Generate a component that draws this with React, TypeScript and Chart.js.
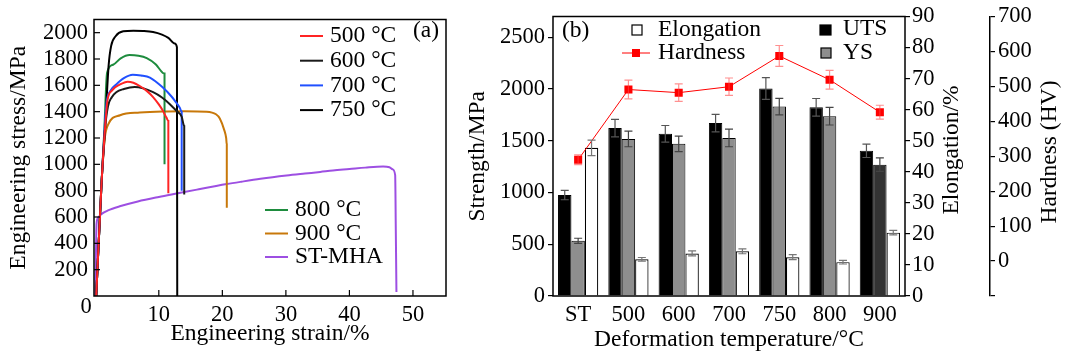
import React, { useEffect, useRef } from 'react';
import { Chart, registerables } from 'chart.js';

Chart.register(...registerables);

const SERIF = '"Liberation Serif", "Times New Roman", Times, serif';
const TICK_SIZE = 22.5;
const TEXT_SIZE = 23.5;

// ---------------- Panel (a): engineering stress-strain curves ----------------
const STRAIN_TICKS = [10, 20, 30, 40, 50];
const STRESS_TICKS = [200, 400, 600, 800, 1000, 1200, 1400, 1600, 1800, 2000];

const C500_STRAIN = [0.15, 1.0, 1.5, 1.9, 2.6, 3.9, 5.1, 6.0, 7.0, 8.1, 9.1, 10.0, 10.6, 11.2, 11.5, 11.5];
const C500_STRESS = [0, 870, 1250, 1480, 1560, 1607, 1628, 1620, 1595, 1558, 1511, 1455, 1410, 1355, 1330, 780];

const C600_STRAIN = [0.15, 1.0, 1.5, 2.0, 2.6, 3.3, 4.5, 6.2, 7.5, 9.1, 10.5, 11.7, 12.8, 13.6, 14.0, 14.0];
const C600_STRESS = [0, 870, 1250, 1440, 1510, 1548, 1572, 1587, 1578, 1548, 1508, 1459, 1405, 1363, 1290, 770];

const C700_STRAIN = [0.15, 1.0, 1.5, 1.8, 2.4, 3.3, 4.5, 5.9, 7.2, 8.6, 10.6, 12.0, 12.5, 13.3, 13.6, 13.6];
const C700_STRESS = [0, 870, 1300, 1474, 1560, 1607, 1655, 1681, 1675, 1659, 1585, 1515, 1484, 1430, 1400, 800];

const C750_STRAIN = [0.15, 1.0, 1.5, 2.1, 2.5, 3.2, 4.4, 6.0, 7.5, 9.1, 10.5, 11.5, 12.5, 12.85, 12.9];
const C750_STRESS = [0, 870, 1237, 1750, 1900, 1973, 2010, 2015, 2013, 2005, 1985, 1960, 1918, 1890, 0];

const C800_STRAIN = [0.15, 1.0, 1.4, 1.86, 2.8, 4.0, 5.4, 6.8, 8.1, 9.5, 10.6, 10.9, 10.9];
const C800_STRESS = [0, 870, 1237, 1696, 1756, 1805, 1830, 1825, 1807, 1760, 1696, 1690, 1000];

const C900_STRAIN = [0.15, 1.0, 1.5, 2.0, 3.9, 7.0, 10.6, 14.0, 17.5, 19.0, 19.6, 20.3, 20.6, 20.7, 20.7];
const C900_STRESS = [0, 870, 1200, 1300, 1373, 1393, 1402, 1404, 1400, 1380, 1348, 1260, 1200, 1150, 670];

const CST_STRAIN = [0.0, 0.1, 0.2, 0.5, 0.9, 2.0, 4.0, 6.7, 10.0, 13.0, 16.0, 20.7, 23.0, 26.0, 30.1, 33.0, 35.4, 37.4, 40.0, 42.5, 45.3, 46.3, 46.8, 47.2, 47.3, 47.4];
const CST_STRESS = [0, 300, 548, 598, 620, 650, 683, 718, 752, 780, 808, 850, 868, 890, 915, 930, 942, 953, 964, 975, 983, 978, 962, 918, 500, 30];

const CURVE_LABELS = ['500 °C', '600 °C', '700 °C', '750 °C', '800 °C', '900 °C', 'ST-MHA'];
const CURVE_COLORS = ['#ff2424', '#1a1a1a', '#2050ff', '#000000', '#1e8c3e', '#c8780a', '#9d4fe2'];
const CURVE_STRAINS = [C500_STRAIN, C600_STRAIN, C700_STRAIN, C750_STRAIN, C800_STRAIN, C900_STRAIN, CST_STRAIN];
const CURVE_STRESSES = [C500_STRESS, C600_STRESS, C700_STRESS, C750_STRESS, C800_STRESS, C900_STRESS, CST_STRESS];

// ---------------- Panel (b): strength / elongation / hardness ----------------
const TEMPS = ['ST', '500', '600', '700', '750', '800', '900'];
const UTS = [975, 1622, 1567, 1670, 2004, 1823, 1403];
const UTS_ERR = [45, 85, 80, 85, 105, 85, 65];
const YS = [533, 1517, 1470, 1527, 1830, 1737, 1269];
const YS_ERR = [25, 75, 75, 85, 80, 85, 65];
const YS_COLORS = ['#8e8e8e', '#8e8e8e', '#8e8e8e', '#8e8e8e', '#8e8e8e', '#8e8e8e', '#333333'];
const ELONGATION = [47.7, 11.8, 13.7, 14.4, 12.5, 10.9, 20.4];
const ELONGATION_ERR = [2.5, 0.6, 0.8, 0.8, 0.8, 0.6, 0.7];
const HARDNESS = [290, 491, 482, 499, 587, 519, 426];
const HARDNESS_ERR = [14, 27, 25, 25, 30, 27, 20];

const STRENGTH_TICKS = [0, 500, 1000, 1500, 2000, 2500];
const ELONGATION_TICKS = [0, 10, 20, 30, 40, 50, 60, 70, 80, 90];
const HARDNESS_TICKS = [-100, 0, 100, 200, 300, 400, 500, 600, 700];

const tickFont = { family: SERIF, size: TICK_SIZE };
const textFont = { family: SERIF, size: TEXT_SIZE };
const textCss = `${TEXT_SIZE}px ${SERIF}`;
const tickCss = `${TICK_SIZE}px ${SERIF}`;
const plain = (v: any) => String(v);

const panelAPlugin = {
  id: 'panelADecor',
  afterDraw(chart: any) {
    const { ctx, chartArea: ca } = chart;
    ctx.save();
    ctx.strokeStyle = '#000';
    ctx.lineWidth = 1.5;
    ctx.strokeRect(ca.left, ca.top, ca.right - ca.left, ca.bottom - ca.top);
    // inward ticks
    const xs = chart.scales.x;
    const ys = chart.scales.y;
    ctx.lineWidth = 1.2;
    STRAIN_TICKS.forEach((v) => {
      const px = xs.getPixelForValue(v);
      ctx.beginPath();
      ctx.moveTo(px, ca.bottom);
      ctx.lineTo(px, ca.bottom - 6);
      ctx.stroke();
    });
    STRESS_TICKS.forEach((v) => {
      const py = ys.getPixelForValue(v);
      ctx.beginPath();
      ctx.moveTo(ca.left, py);
      ctx.lineTo(ca.left + 6, py);
      ctx.stroke();
    });
    ctx.fillStyle = '#000';
    ctx.textBaseline = 'middle';
    ctx.textAlign = 'center';
    ctx.font = tickCss;
    ctx.fillText('0', ca.left - 8, ca.bottom + 11);
    ctx.textAlign = 'left';
    ctx.font = textCss;
    ctx.fillText('(a)', 413, 31);
    // legend
    const ds = chart.data.datasets;
    const drawEntry = (i: number, x0: number, y: number) => {
      ctx.strokeStyle = ds[i].borderColor;
      ctx.lineWidth = 2;
      ctx.beginPath();
      ctx.moveTo(x0, y);
      ctx.lineTo(x0 + 23, y);
      ctx.stroke();
      ctx.fillStyle = '#000';
      ctx.fillText(ds[i].label, x0 + 30, y);
    };
    [0, 1, 2, 3].forEach((i, k) => drawEntry(i, 300, 36 + k * 24.7));
    [4, 5, 6].forEach((i, k) => drawEntry(i, 265, 210 + k * 23.5));
    ctx.restore();
  },
};

const panelBPlugin = {
  id: 'panelBDecor',
  afterDatasetsDraw(chart: any) {
    const { ctx } = chart;
    ctx.save();
    chart.data.datasets.forEach((ds: any, i: number) => {
      const meta = chart.getDatasetMeta(i);
      const scale = chart.scales[ds.yAxisID];
      const errs: number[] = ds.errorBars;
      if (!errs) return;
      ctx.strokeStyle = ds.errorColor;
      ctx.lineWidth = 1.2;
      meta.data.forEach((el: any, j: number) => {
        const v = ds.data[j];
        const yTop = scale.getPixelForValue(v + errs[j]);
        const yBot = scale.getPixelForValue(v - errs[j]);
        const x = el.x;
        ctx.beginPath();
        ctx.moveTo(x, yTop);
        ctx.lineTo(x, yBot);
        ctx.moveTo(x - 4, yTop);
        ctx.lineTo(x + 4, yTop);
        ctx.moveTo(x - 4, yBot);
        ctx.lineTo(x + 4, yBot);
        ctx.stroke();
      });
    });
    ctx.restore();
  },
  afterDraw(chart: any) {
    const { ctx, chartArea: ca } = chart;
    ctx.save();
    ctx.strokeStyle = '#000';
    ctx.lineWidth = 1.5;
    ctx.strokeRect(ca.left, ca.top, ca.right - ca.left, ca.bottom - ca.top);
    ctx.fillStyle = '#000';
    ctx.font = textCss;
    ctx.textBaseline = 'middle';
    ctx.textAlign = 'left';
    ctx.fillText('(b)', 102, 31);

    const ds = chart.data.datasets;
    // Elongation box
    ctx.lineWidth = 1.2;
    ctx.fillStyle = '#fff';
    ctx.fillRect(172, 25, 10, 10);
    ctx.strokeRect(172, 25, 10, 10);
    ctx.fillStyle = '#000';
    ctx.fillText(ds[2].label, 198, 30);
    // Hardness line + marker
    ctx.strokeStyle = '#ff0000';
    ctx.lineWidth = 1;
    ctx.beginPath();
    ctx.moveTo(162, 53);
    ctx.lineTo(190, 53);
    ctx.stroke();
    ctx.fillStyle = '#ff0000';
    ctx.fillRect(172, 49, 8, 8);
    ctx.fillStyle = '#000';
    ctx.fillText(ds[3].label, 198, 53);
    // UTS box
    ctx.strokeStyle = '#000';
    ctx.lineWidth = 1.2;
    ctx.fillStyle = '#000';
    ctx.fillRect(360, 25, 11, 10);
    ctx.strokeRect(360, 25, 11, 10);
    ctx.fillText(ds[0].label, 383, 29);
    // YS box
    ctx.fillStyle = '#8e8e8e';
    ctx.fillRect(361, 48, 10, 10);
    ctx.strokeRect(361, 48, 10, 10);
    ctx.fillStyle = '#000';
    ctx.fillText(ds[1].label, 383, 53);

    // rotated right-hand titles (reading bottom to top)
    const drawRot = (text: string, x: number, y: number) => {
      ctx.save();
      ctx.translate(x, y);
      ctx.rotate(-Math.PI / 2);
      ctx.textAlign = 'center';
      ctx.textBaseline = 'middle';
      ctx.fillText(text, 0, 0);
      ctx.restore();
    };
    drawRot('Elongation/%', 492, 150);
    drawRot('Hardness (HV)', 590, 152);
    ctx.restore();
  },
};

function PanelA() {
  const ref = useRef<HTMLCanvasElement>(null);
  useEffect(() => {
    const chart = new Chart(ref.current as HTMLCanvasElement, {
      type: 'scatter',
      data: {
        datasets: CURVE_LABELS.map((label, i) => ({
          label,
          data: CURVE_STRAINS[i].map((x, k) => ({ x, y: CURVE_STRESSES[i][k] })),
          showLine: true,
          borderColor: CURVE_COLORS[i],
          backgroundColor: CURVE_COLORS[i],
          borderWidth: 2,
          pointRadius: 0,
          cubicInterpolationMode: 'monotone',
          fill: false,
        })),
      },
      options: {
        animation: false,
        responsive: false,
        devicePixelRatio: 1,
        layout: { padding: { top: 13, right: 14, left: 0, bottom: 0 } },
        plugins: { legend: { display: false }, tooltip: { enabled: false } },
        scales: {
          x: {
            type: 'linear',
            min: -0.2,
            max: 55.2,
            afterBuildTicks: (s: any) => {
              s.ticks = STRAIN_TICKS.map((v) => ({ value: v }));
            },
            grid: { display: false, drawTicks: false },
            border: { display: false },
            ticks: { font: tickFont, color: '#000', padding: 5.5, maxRotation: 0, autoSkip: false, callback: plain },
            title: { display: true, text: 'Engineering strain/%', font: textFont, color: '#000', padding: { top: 0, bottom: 8 } },
            afterFit: (s: any) => {
              s.height = 60;
            },
          },
          y: {
            type: 'linear',
            min: 0,
            max: 2100,
            afterBuildTicks: (s: any) => {
              s.ticks = STRESS_TICKS.map((v) => ({ value: v }));
            },
            grid: { display: false, drawTicks: false },
            border: { display: false },
            ticks: { font: tickFont, color: '#000', padding: 6, autoSkip: false, callback: plain },
            title: { display: true, text: 'Engineering stress/MPa', font: textFont, color: '#000', padding: { top: 5, bottom: 0 } },
            afterFit: (s: any) => {
              s.width = 94;
            },
          },
        },
      } as any,
      plugins: [panelAPlugin],
    });
    return () => chart.destroy();
  }, []);
  return <canvas ref={ref} width={460} height={356} style={{ position: 'absolute', left: 0, top: 0 }} />;
}

function PanelB() {
  const ref = useRef<HTMLCanvasElement>(null);
  useEffect(() => {
    const chart = new Chart(ref.current as HTMLCanvasElement, {
      type: 'bar',
      data: {
        labels: TEMPS,
        datasets: [
          {
            label: 'UTS',
            data: UTS,
            yAxisID: 'y',
            backgroundColor: '#000',
            borderColor: '#000',
            borderWidth: 1,
            order: 1,
            errorBars: UTS_ERR,
            errorColor: '#555',
          },
          {
            label: 'YS',
            data: YS,
            yAxisID: 'y',
            backgroundColor: YS_COLORS,
            borderColor: '#000',
            borderWidth: 1,
            order: 1,
            errorBars: YS_ERR,
            errorColor: '#444',
          },
          {
            label: 'Elongation',
            data: ELONGATION,
            yAxisID: 'y2',
            backgroundColor: '#fff',
            borderColor: '#000',
            borderWidth: 1.2,
            order: 1,
            errorBars: ELONGATION_ERR,
            errorColor: '#777',
          },
          {
            type: 'line',
            label: 'Hardness',
            data: HARDNESS,
            yAxisID: 'y3',
            borderColor: '#ff0000',
            backgroundColor: '#ff0000',
            borderWidth: 1,
            tension: 0,
            pointStyle: 'rect',
            pointRadius: 5.7,
            pointBorderWidth: 0,
            pointBackgroundColor: '#ff0000',
            order: 0,
            errorBars: HARDNESS_ERR,
            errorColor: 'rgba(255,70,70,0.6)',
          },
        ] as any,
      },
      options: {
        animation: false,
        responsive: false,
        devicePixelRatio: 1,
        layout: { padding: { top: 13, right: 0, left: 0, bottom: 0 } },
        plugins: { legend: { display: false }, tooltip: { enabled: false } },
        datasets: { bar: { categoryPercentage: 0.8, barPercentage: 1.0 } },
        scales: {
          x: {
            grid: { display: false, drawTicks: false },
            border: { display: false },
            ticks: { font: tickFont, color: '#000', padding: 5.5, maxRotation: 0, autoSkip: false },
            title: { display: true, text: 'Deformation temperature/°C', font: textFont, color: '#000', padding: { top: 0, bottom: 2 } },
            afterFit: (s: any) => {
              s.height = 60;
            },
          },
          y: {
            type: 'linear',
            position: 'left',
            min: 0,
            max: 2700,
            afterBuildTicks: (s: any) => {
              s.ticks = STRENGTH_TICKS.map((v) => ({ value: v }));
            },
            grid: { drawOnChartArea: false, drawTicks: true, tickLength: 5, color: '#000', lineWidth: 1.2 },
            border: { display: false },
            ticks: { font: tickFont, color: '#000', padding: 3, autoSkip: false, callback: plain },
            title: { display: true, text: 'Strength/MPa', font: textFont, color: '#000', padding: { top: 4, bottom: 0 } },
            afterFit: (s: any) => {
              s.width = 93;
            },
          },
          y2: {
            type: 'linear',
            position: 'right',
            min: 0,
            max: 90,
            afterBuildTicks: (s: any) => {
              s.ticks = ELONGATION_TICKS.map((v) => ({ value: v }));
            },
            grid: { drawOnChartArea: false, drawTicks: true, tickLength: 5, color: '#000', lineWidth: 1.2 },
            border: { display: false },
            ticks: { font: tickFont, color: '#000', padding: 2, autoSkip: false, callback: plain },
            afterFit: (s: any) => {
              s.width = 85;
            },
          },
          y3: {
            type: 'linear',
            position: 'right',
            min: -100,
            max: 700,
            afterBuildTicks: (s: any) => {
              s.ticks = HARDNESS_TICKS.map((v) => ({ value: v }));
            },
            grid: { drawOnChartArea: false, drawTicks: true, tickLength: 5, color: '#000', lineWidth: 1.2 },
            border: { display: true, color: '#000', width: 1.5 },
            ticks: {
              font: tickFont,
              color: '#000',
              padding: 3,
              autoSkip: false,
              callback: (v: any) => (v < 0 ? '' : String(v)),
            },
            afterFit: (s: any) => {
              s.width = 75;
            },
          },
        },
      } as any,
      plugins: [panelBPlugin],
    });
    return () => chart.destroy();
  }, []);
  return <canvas ref={ref} width={605} height={356} style={{ position: 'absolute', left: 460, top: 0 }} />;
}

export default function App() {
  return (
    <div style={{ position: 'fixed', left: 0, top: 0, width: 1065, height: 356, background: '#fff', overflow: 'hidden' }}>
      <PanelA />
      <PanelB />
    </div>
  );
}
